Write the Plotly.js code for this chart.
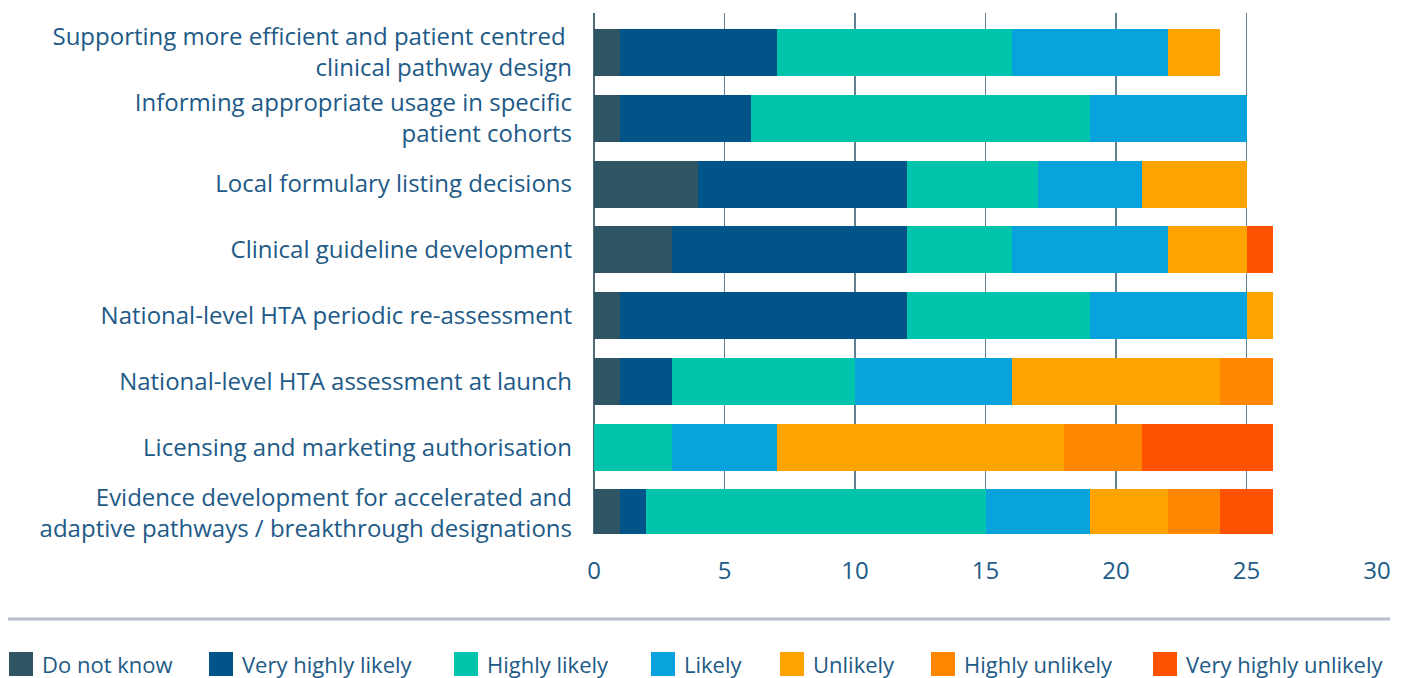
<!DOCTYPE html>
<html>
<head>
<meta charset="utf-8">
<script src="https://cdn.plot.ly/plotly-3.0.1.min.js"></script>
<style>html,body{margin:0;padding:0;background:#fff;}#chart{width:1404px;height:678px;}</style>
</head>
<body>
<div id="chart"></div>
<script>
// ---- data ----
const categories = [
  "Supporting more efficient and patient centred <br>clinical pathway design",
  "Informing appropriate usage in specific<br>patient cohorts",
  "Local formulary listing decisions",
  "Clinical guideline development",
  "National-level HTA periodic re-assessment",
  "National-level HTA assessment at launch",
  "Licensing and marketing authorisation",
  "Evidence development for accelerated and<br>adaptive pathways / breakthrough designations"
];
const seriesNames = ["Do not know", "Very highly likely", "Highly likely", "Likely", "Unlikely", "Highly unlikely", "Very highly unlikely"];
const doNotKnow        = [1, 1, 4, 3, 1, 1, 0, 1];
const veryHighlyLikely = [6, 5, 8, 9, 11, 2, 0, 1];
const highlyLikely     = [9, 13, 5, 4, 7, 7, 3, 13];
const likely           = [6, 6, 4, 6, 6, 6, 4, 4];
const unlikely         = [2, 0, 4, 3, 1, 8, 11, 3];
const highlyUnlikely   = [0, 0, 0, 0, 0, 2, 3, 2];
const veryHighlyUnlikely = [0, 0, 0, 1, 0, 0, 5, 2];
const xTicks = [0, 5, 10, 15, 20, 25, 30];

const seriesValues = [doNotKnow, veryHighlyLikely, highlyLikely, likely, unlikely, highlyUnlikely, veryHighlyUnlikely];
const colors = ["#2F5565", "#005487", "#00C4AC", "#08A2DD", "#FFA300", "#FF8800", "#FF5200"];
const textColor = "#215A87";
const FONT = "'Open Sans', Lato, sans-serif";

const W = 1404, H = 678;
const M = {l: 594, r: 27, t: 13, b: 144};
const PW = W - M.l - M.r, PH = H - M.t - M.b;
const px2x = px => (px - M.l) / PW;
const py2y = py => (H - M.b - py) / PH;

const traces = seriesNames.map((name, i) => ({
  type: 'bar',
  orientation: 'h',
  name: name,
  y: categories,
  x: seriesValues[i],
  marker: {color: colors[i], line: {width: 0}},
  showlegend: false,
  hoverinfo: 'x+name'
}));

// manual legend (squares + labels) below the separator line
const legendSquareX = [9, 209, 454, 651, 780, 931, 1153];
const shapes = [{
  type: 'line', xref: 'paper', yref: 'paper',
  x0: px2x(8), x1: px2x(1390), y0: py2y(619), y1: py2y(619),
  line: {color: '#B9BECE', width: 3}
}];
const annotations = [];
seriesNames.forEach((name, i) => {
  const sx = legendSquareX[i];
  shapes.push({
    type: 'rect', xref: 'paper', yref: 'paper',
    x0: px2x(sx), x1: px2x(sx + 24), y0: py2y(676), y1: py2y(652),
    fillcolor: colors[i], line: {width: 0}
  });
  annotations.push({
    xref: 'paper', yref: 'paper', x: px2x(sx + 31), y: py2y(664),
    xanchor: 'left', yanchor: 'middle', showarrow: false,
    text: name, font: {family: FONT, size: 22, color: textColor}
  });
});

const layout = {
  width: W, height: H,
  margin: M,
  barmode: 'stack',
  bargap: 0.285,
  paper_bgcolor: '#ffffff',
  plot_bgcolor: '#ffffff',
  font: {family: FONT, color: textColor, size: 24},
  showlegend: false,
  xaxis: {
    range: [0, 30],
    tickvals: xTicks,
    ticktext: xTicks.map(String),
    showgrid: true,
    gridcolor: '#647F8E',
    gridwidth: 1.5,
    zeroline: true,
    zerolinecolor: '#4F6B7A',
    zerolinewidth: 1.5,
    showline: false,
    ticks: '',
    ticklabelstandoff: 20,
    tickfont: {family: FONT, size: 24, color: textColor},
    fixedrange: true
  },
  yaxis: {
    type: 'category',
    categoryorder: 'array',
    categoryarray: categories,
    range: [7.32, -0.6],
    showgrid: false,
    zeroline: false,
    showline: false,
    ticks: '',
    ticklabelstandoff: 21,
    tickfont: {family: FONT, size: 24, color: textColor},
    fixedrange: true
  },
  shapes: shapes,
  annotations: annotations
};

Plotly.newPlot('chart', traces, layout, {displayModeBar: false, staticPlot: true});
</script>
</body>
</html>
